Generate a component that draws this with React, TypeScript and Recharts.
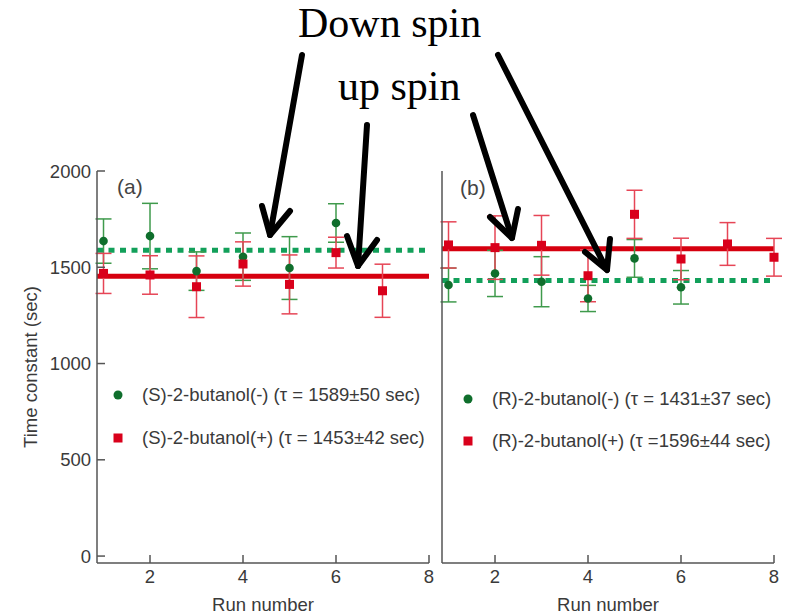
import React from 'react';
import { ScatterChart, Scatter, XAxis, YAxis, ErrorBar, ReferenceLine, Legend } from 'recharts';

// run numbers
const runs = [1, 2, 3, 4, 5, 6, 7, 8];

// panel (a): (S)-2-butanol
const sMinus = [1636, 1662, 1480, 1555, 1496, 1730];
const sMinusErr = [115, 170, 100, 123, 163, 100];
const sPlus = [1468, 1460, 1399, 1517, 1411, 1576, 1378];
const sPlusErr = [104, 100, 160, 115, 153, 80, 138];
const sMinusMean = 1589;
const sPlusMean = 1453;

// panel (b): (R)-2-butanol
const rMinus = [1408, 1468, 1425, 1338, 1546, 1396];
const rMinusErr = [88, 120, 130, 68, 98, 87];
const rPlus = [1616, 1602, 1614, 1456, 1775, 1543, 1621, 1552];
const rPlusErr = [120, 165, 155, 135, 125, 108, 111, 98];
const rMinusMean = 1431;
const rPlusMean = 1596;

const xTicks = [2, 4, 6, 8];
const yTicks = [0, 500, 1000, 1500, 2000];

const names = {
  sMinus: '(S)-2-butanol(-) (τ = 1589±50 sec)',
  sPlus: '(S)-2-butanol(+) (τ = 1453±42 sec)',
  rMinus: '(R)-2-butanol(-) (τ = 1431±37 sec)',
  rPlus: '(R)-2-butanol(+) (τ =1596±44 sec)',
};

const GREEN = '#0f6e2c';
const GREEN_BAR = '#3f9a4c';
const GREEN_LINE = '#12a05a';
const RED = '#d9001b';
const RED_BAR = '#e64556';
const RED_LINE = '#d6000f';
const AXIS = '#555';
const TEXT = '#3a3a3a';

const toPoints = (vals: number[], errs: number[]) =>
  vals.map((y, i) => ({ x: runs[i], y, err: errs[i] }));

const Dot = (p: any) => <circle cx={p.cx} cy={p.cy} r={4.3} fill={GREEN} />;
const Sq = (p: any) => <rect x={p.cx - 4.5} y={p.cy - 4.5} width={9} height={9} fill={RED} />;

const makeLegend = (gap: number) => (props: any) => {
  const items = [...(props.payload || [])].sort((a: any, b: any) => (a.type === 'circle' ? -1 : 1) - (b.type === 'circle' ? -1 : 1));
  return (
    <div>
      {items.map((e: any, i: number) => (
        <div key={i} style={{ display: 'flex', alignItems: 'center', height: 30, marginBottom: gap, fontSize: 18.5, color: TEXT, whiteSpace: 'nowrap' }}>
          <svg width={20} height={20} style={{ marginRight: 14 }}>
            {e.type === 'circle' ? (
              <circle cx={10} cy={10} r={4.5} fill={GREEN} />
            ) : (
              <rect x={5.5} y={5.5} width={9} height={9} fill={RED} />
            )}
          </svg>
          <span>{e.value}</span>
        </div>
      ))}
    </div>
  );
};

const axisProps = {
  stroke: AXIS,
  strokeWidth: 1.5,
  tickSize: -8,
};

const Arrow = ({ from, tip, a, b }: { from: number[]; tip: number[]; a: number[]; b: number[] }) => (
  <g stroke="#000" strokeWidth={6} fill="none" strokeLinecap="round" strokeLinejoin="round">
    <line x1={from[0]} y1={from[1]} x2={tip[0]} y2={tip[1]} />
    <polyline points={`${a[0]},${a[1]} ${tip[0]},${tip[1]} ${b[0]},${b[1]}`} />
  </g>
);

export default function App() {
  return (
    <div style={{ position: 'absolute', left: 0, top: 0, width: 787, height: 616, background: '#fff', fontFamily: '"Liberation Sans", Arial, sans-serif' }}>
      <div style={{ position: 'absolute', left: 0, top: 0 }}>
        <ScatterChart width={440} height={616} margin={{ top: 171, right: 11, bottom: 0, left: 37 }}>
          <XAxis
            type="number"
            dataKey="x"
            domain={[0.86, 8]}
            ticks={xTicks}
            height={53}
            tickMargin={15}
            tick={{ fill: TEXT, fontSize: 18.5 }}
            label={{ value: 'Run number', position: 'insideBottom', offset: 5, fill: TEXT, fontSize: 18.5 }}
            {...axisProps}
          />
          <YAxis
            type="number"
            dataKey="y"
            domain={[-36, 2000]}
            ticks={yTicks}
            width={60}
            tickMargin={14}
            tick={{ fill: TEXT, fontSize: 18.5 }}
            label={{ value: 'Time constant (sec)', angle: -90, position: 'insideLeft', offset: -7, fill: TEXT, fontSize: 18.5, style: { textAnchor: 'middle' } }}
            {...axisProps}
          />
          <ReferenceLine y={sMinusMean} stroke={GREEN_LINE} strokeWidth={5} strokeDasharray="6 5.5" />
          <ReferenceLine y={sPlusMean} stroke={RED_LINE} strokeWidth={5} />
          <Scatter name={names.sMinus} data={toPoints(sMinus, sMinusErr)} fill={GREEN} legendType="circle" shape={Dot} isAnimationActive={false}>
            <ErrorBar dataKey="err" direction="y" width={8} stroke={GREEN_BAR} strokeWidth={1.5} />
          </Scatter>
          <Scatter name={names.sPlus} data={toPoints(sPlus, sPlusErr)} fill={RED} legendType="square" shape={Sq} isAnimationActive={false}>
            <ErrorBar dataKey="err" direction="y" width={8} stroke={RED_BAR} strokeWidth={1.5} />
          </Scatter>
          <Legend
            layout="vertical"
            align="center"
            verticalAlign="middle"
            content={makeLegend(13)}
            wrapperStyle={{ left: 108, top: 380, width: 330 }}
          />
        </ScatterChart>
      </div>
      <div style={{ position: 'absolute', left: 400, top: 0 }}>
        <ScatterChart width={387} height={616} margin={{ top: 171, right: 13, bottom: 0, left: 0 }}>
          <XAxis
            type="number"
            dataKey="x"
            domain={[0.86, 8]}
            ticks={xTicks}
            height={53}
            tickMargin={15}
            tick={{ fill: TEXT, fontSize: 18.5 }}
            label={{ value: 'Run number', position: 'insideBottom', offset: 5, fill: TEXT, fontSize: 18.5 }}
            {...axisProps}
          />
          <YAxis
            type="number"
            dataKey="y"
            domain={[-36, 2000]}
            ticks={yTicks}
            width={42}
            tick={false}
            {...axisProps}
          />
          <ReferenceLine y={rMinusMean} stroke={GREEN_LINE} strokeWidth={5} strokeDasharray="6 5.5" />
          <ReferenceLine y={rPlusMean} stroke={RED_LINE} strokeWidth={5} />
          <Scatter name={names.rMinus} data={toPoints(rMinus, rMinusErr)} fill={GREEN} legendType="circle" shape={Dot} isAnimationActive={false}>
            <ErrorBar dataKey="err" direction="y" width={8} stroke={GREEN_BAR} strokeWidth={1.5} />
          </Scatter>
          <Scatter name={names.rPlus} data={toPoints(rPlus, rPlusErr)} fill={RED} legendType="square" shape={Sq} isAnimationActive={false}>
            <ErrorBar dataKey="err" direction="y" width={8} stroke={RED_BAR} strokeWidth={1.5} />
          </Scatter>
          <Legend
            layout="vertical"
            align="center"
            verticalAlign="middle"
            content={makeLegend(12)}
            wrapperStyle={{ left: 58, top: 384, width: 320 }}
          />
        </ScatterChart>
      </div>
      <svg width={787} height={616} style={{ position: 'absolute', left: 0, top: 0, pointerEvents: 'none' }}>
        <text x={298} y={37} fontFamily='"Liberation Serif", "Times New Roman", serif' fontSize={42} fill="#000">Down spin</text>
        <text x={338} y={100} fontFamily='"Liberation Serif", "Times New Roman", serif' fontSize={42} fill="#000">up spin</text>
        <text x={117} y={194} fontSize={21} fill="#444">(a)</text>
        <text x={460} y={195} fontSize={21} fill="#444">(b)</text>
        <Arrow from={[302, 55]} tip={[270, 235]} a={[262, 206]} b={[290, 211]} />
        <Arrow from={[367, 125]} tip={[358, 266]} a={[347, 236]} b={[377, 240]} />
        <Arrow from={[473, 115]} tip={[512, 238]} a={[490, 217]} b={[518, 209]} />
        <Arrow from={[498, 55]} tip={[607, 270]} a={[585, 252]} b={[610, 239]} />
      </svg>
    </div>
  );
}
